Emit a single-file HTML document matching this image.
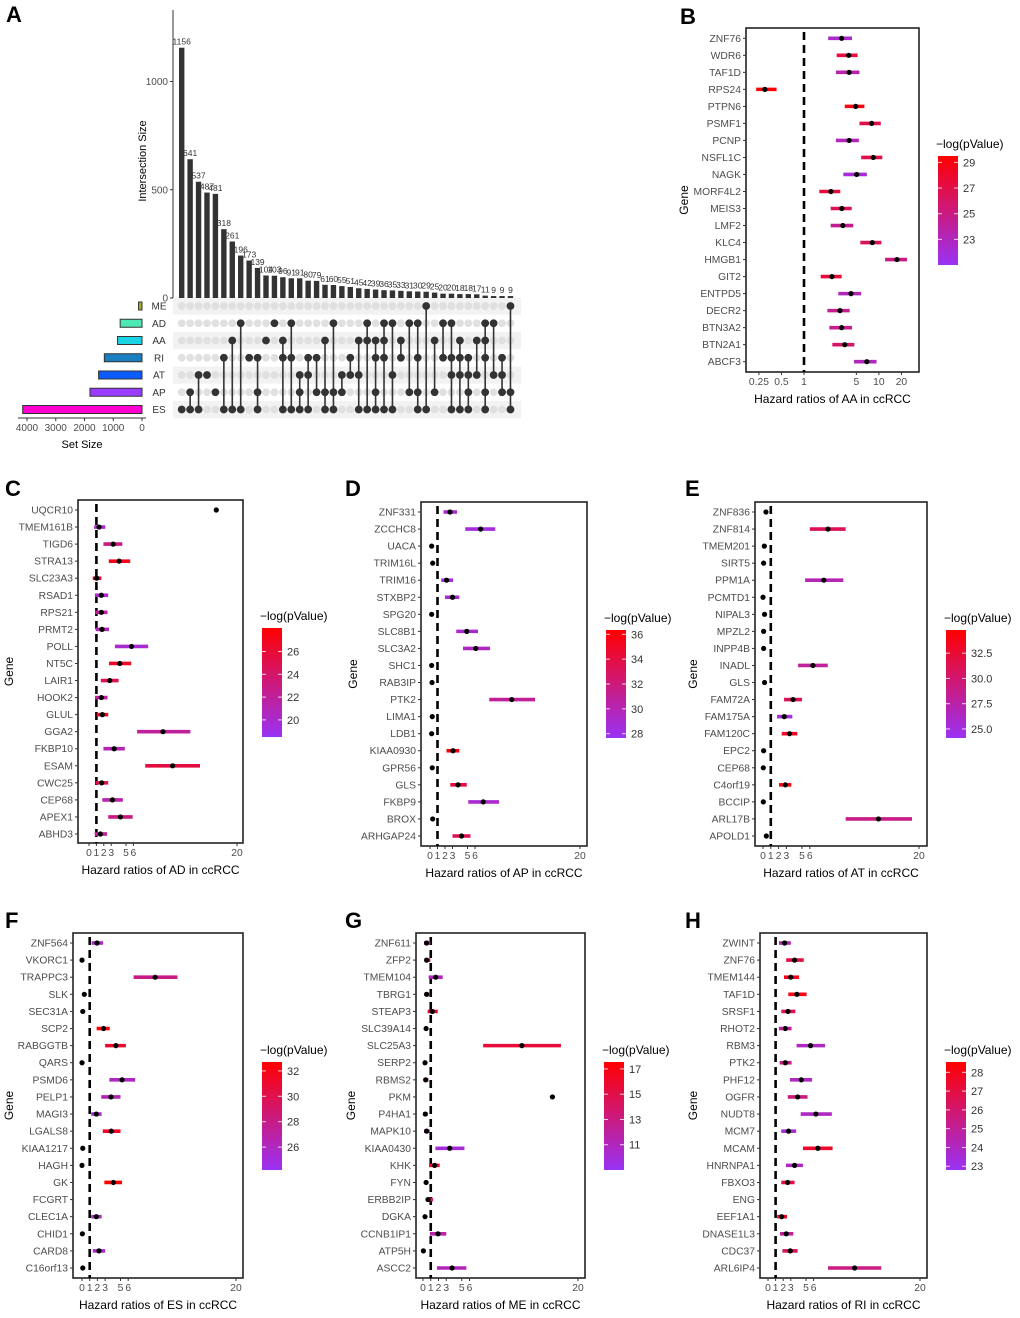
<!DOCTYPE html>
<html><head><meta charset="utf-8"><style>
body{margin:0;background:#fff;}
svg text{font-family:"Liberation Sans",Arial,sans-serif;}
</style></head><body>
<svg id="fig" xmlns="http://www.w3.org/2000/svg" width="1020" height="1313" viewBox="0 0 1020 1313"></svg>
<script>
// ---------- Panel A data ----------
const setNames = ["ME","AD","AA","RI","AT","AP","ES"];
const setSizes = [120,760,850,1310,1510,1810,4150];
const setColors = ["#a8b020","#4de8b4","#1ad4e6","#1a7fc0","#0a5cff","#9a3cff","#ff00d0"];
const interCounts = [1156,641,537,487,481,318,261,196,173,139,104,103,96,91,91,80,79,61,60,55,51,45,42,39,36,35,33,31,30,29,25,20,20,18,18,17,11,9,9,9];
const interSets = [
 ["ES"],["AP","ES"],["AT","ES"],["AT"],["AP"],["RI","ES"],["AA","ES"],["AD","ES"],["RI"],["RI","AP","ES"],
 ["AA"],["AD"],["AA","RI","ES"],["AD","RI","ES"],["AT","AP","ES"],["RI","AT","ES"],["RI","AP"],["AA","AP","ES"],["AD","AP","ES"],["AT","AP"],
 ["RI","AT"],["AA","AT","ES"],["AD","AA","ES"],["AA","RI","AP","ES"],["AD","AA","RI","ES"],["AD","AT","ES"],["AA","RI"],["AD","AP"],["AD","RI","AP","ES"],["ME","ES"],
 ["AA","AP"],["AD","RI"],["AD","RI","AT","ES"],["AA","RI","AT","ES"],["RI","AT","AP","ES"],["AA","AT"],["AD","AA","RI","AP","ES"],["AD","AT"],["RI","AT","AP"],["ME","AP","ES"]
];
const interTicks = [0,500,1000];
const setTicks = [0,1000,2000,3000,4000];

// ---------- Panel B (AA) ----------
const bGenes = ["ZNF76","WDR6","TAF1D","RPS24","PTPN6","PSMF1","PCNP","NSFL1C","NAGK","MORF4L2","MEIS3","LMF2","KLC4","HMGB1","GIT2","ENTPD5","DECR2","BTN3A2","BTN2A1","ABCF3"];
const bHR = [3.18,3.95,4.0,0.30,4.9,8.0,4.0,8.4,5.05,2.29,3.2,3.3,8.17,17.4,2.36,4.24,3.02,3.18,3.5,6.9];
const bLo = [2.1,2.73,2.67,0.23,3.5,5.5,2.67,5.8,3.35,1.6,2.27,2.27,5.65,12.1,1.67,2.87,2.05,2.18,2.39,4.66];
const bHi = [4.37,5.2,5.5,0.43,6.4,10.6,5.4,11.1,6.9,3.05,4.33,4.55,10.8,23.7,3.18,5.8,4.07,4.37,4.7,9.3];
const bP = [22.5,27.5,23.5,29.5,29,27,23,27,22,27.5,26.5,24.5,26.5,25,27.5,23,24.5,24.5,26,23];
const bTicks = [0.25,0.5,1,5,10,20];
const bLegTicks = [23,25,27,29];

// ---------- Panel C (AD) ----------
const cGenes = ["UQCR10","TMEM161B","TIGD6","STRA13","SLC23A3","RSAD1","RPS21","PRMT2","POLL","NT5C","LAIR1","HOOK2","GLUL","GGA2","FKBP10","ESAM","CWC25","CEP68","APEX1","ABHD3"];
const cHR = [17.2,1.36,3.26,4.07,1.04,1.67,1.67,1.76,5.75,4.16,2.8,1.67,1.8,10.0,3.4,11.3,1.72,3.17,4.25,1.54];
const cLo = [null,0.7,1.95,2.67,0.5,0.8,0.85,0.9,3.5,2.7,1.6,0.8,1.04,6.5,1.95,7.6,0.9,1.8,2.6,0.77];
const cHi = [null,2.2,4.5,5.57,1.67,2.6,2.5,2.7,8.0,5.7,4.0,2.5,2.6,13.7,4.84,15.0,2.6,4.57,5.9,2.44];
const cP = [null,20,23,27,26,20,22,21,20,26.5,25,22,27,22,21,25.5,25,21.5,23,22];
const cLegTicks = [20,22,24,26];

// ---------- Panel D (AP) ----------
const dGenes = ["ZNF331","ZCCHC8","UACA","TRIM16L","TRIM16","STXBP2","SPG20","SLC8B1","SLC3A2","SHC1","RAB3IP","PTK2","LIMA1","LDB1","KIAA0930","GPR56","GLS","FKBP9","BROX","ARHGAP24"];
const dHR = [2.67,6.76,0.22,0.36,2.2,3.0,0.22,4.9,6.1,0.22,0.27,10.9,0.3,0.22,3.07,0.3,3.73,7.1,0.36,4.2];
const dLo = [1.8,4.7,null,null,1.5,2.0,null,3.5,4.4,null,null,7.9,null,null,2.2,null,2.7,5.1,null,3.0];
const dHi = [3.6,8.7,null,null,3.07,3.9,null,6.4,8.0,null,null,14.0,null,null,3.9,null,4.9,9.2,null,5.4];
const dP = [29,28.5,null,null,28.5,29,null,29,29.5,null,null,31,null,null,36,null,34,29,null,33.5];
const dLegTicks = [28,30,32,34,36];

// ---------- Panel E (AT) ----------
const eGenes = ["ZNF836","ZNF814","TMEM201","SIRT5","PPM1A","PCMTD1","NIPAL3","MPZL2","INPP4B","INADL","GLS","FAM72A","FAM175A","FAM120C","EPC2","CEP68","C4orf19","BCCIP","ARL17B","APOLD1"];
const eHR = [0.38,8.33,0.17,0.08,7.8,0.0,0.2,0.08,0.08,6.4,0.2,3.85,2.73,3.4,0.08,0.04,2.86,0.04,14.8,0.43];
const eLo = [0.2,6.0,null,null,5.4,null,null,null,null,4.5,null,2.7,1.8,2.4,null,null,2.05,null,10.6,0.3];
const eHi = [0.6,10.6,null,null,10.3,null,null,null,null,8.3,null,5.0,3.76,4.4,null,null,3.63,null,19.1,0.6];
const eP = [25,31,null,null,27,null,null,null,null,28,null,31,25,33,null,null,34,null,29,28];
const eLegTicks = [25.0,27.5,30.0,32.5];

// ---------- Panel F (ES) ----------
const fGenes = ["ZNF564","VKORC1","TRAPPC3","SLK","SEC31A","SCP2","RABGGTB","QARS","PSMD6","PELP1","MAGI3","LGALS8","KIAA1217","HAGH","GK","FCGRT","CLEC1A","CHID1","CARD8","C16orf13"];
const fHR = [1.95,0.0,9.5,0.3,0.1,2.8,4.4,0.0,5.2,3.77,1.86,3.8,0.1,0.0,4.07,null,1.86,0.05,2.2,0.1];
const fLo = [1.25,null,6.7,null,null,1.9,3.0,null,3.55,2.5,1.2,2.7,null,null,2.9,null,1.2,null,1.4,null];
const fHi = [2.73,null,12.4,null,null,3.6,5.7,null,6.9,5.0,2.55,5.0,null,null,5.2,null,2.55,null,3.0,null];
const fP = [26,null,28,null,null,32.5,31,null,26,26.5,25.5,31.5,null,null,33,null,26,null,25.5,null];
const fLegTicks = [26,28,30,32];

// ---------- Panel G (ME) ----------
const gGenes = ["ZNF611","ZFP2","TMEM104","TBRG1","STEAP3","SLC39A14","SLC25A3","SERP2","RBMS2","PKM","P4HA1","MAPK10","KIAA0430","KHK","FYN","ERBB2IP","DGKA","CCNB1IP1","ATP5H","ASCC2"];
const gHR = [0.47,0.47,1.64,0.47,1.2,0.4,12.76,0.26,0.35,16.7,0.3,0.47,3.45,1.5,0.4,0.65,0.26,1.94,0.05,3.75];
const gLo = [0.13,0.17,0.73,0.17,0.6,0.2,7.76,null,0.05,null,0.0,0.13,1.6,0.78,0.2,0.35,null,0.9,null,1.8];
const gHi = [0.95,0.95,2.54,0.9,1.9,0.6,17.8,null,0.7,null,0.6,0.86,5.35,2.15,0.6,1.3,null,3.0,null,5.6];
const gP = [12,15,11,12,16,14,15.5,null,11,null,16,11,10,16,16,14,null,11.5,null,11];
const gLegTicks = [11,13,15,17];

// ---------- Panel H (RI) ----------
const hGenes = ["ZWINT","ZNF76","TMEM144","TAF1D","SRSF1","RHOT2","RBM3","PTK2","PHF12","OGFR","NUDT8","MCM7","MCAM","HNRNPA1","FBXO3","ENG","EEF1A1","DNASE1L3","CDC37","ARL6IP4"];
const hHR = [2.19,3.5,3.0,3.8,2.63,2.28,5.6,2.28,4.38,3.9,6.3,2.7,6.56,3.5,2.58,null,1.8,2.4,2.93,11.4];
const hLo = [1.44,2.4,2.1,2.67,1.75,1.44,3.76,1.53,2.9,2.6,4.3,1.75,4.6,2.36,1.75,null,1.2,1.58,1.9,7.9];
const hHi = [3.0,4.7,4.07,5.08,3.6,3.1,7.5,3.1,5.8,5.2,8.4,3.7,8.5,4.6,3.5,null,2.5,3.33,3.9,14.9];
const hP = [24.5,27,28,28,26.5,25,24,25.5,24,25.5,24,23.5,27.5,24,27,null,27.5,25,26.5,25.5];
const hLegTicks = [23,24,25,26,27,28];
const linTicks = [0,1,2,3,5,6,20];

const NS = "http://www.w3.org/2000/svg";
const svg = document.getElementById("fig");
function el(tag, attrs, parent, text){
  const e = document.createElementNS(NS, tag);
  for (const k in attrs) e.setAttribute(k, attrs[k]);
  if (text !== undefined) e.textContent = text;
  (parent || svg).appendChild(e);
  return e;
}
function grp(name){
  const g = document.createElementNS(NS,"g");
  
  
  svg.appendChild(g);
  return g;
}
function lerpColor(t){
  t = Math.max(0, Math.min(1, t));
  const a=[154,50,245], b=[255,0,0];
  const c=a.map((v,i)=>Math.round(v+(b[i]-v)*t));
  return "rgb("+c.join(",")+")";
}
let gradId = 0;

function forest(cfg){
  const g = grp(cfg.name);
  const letter = el("text",{x:cfg.letterX,y:cfg.letterY,"font-size":22,"font-weight":"bold",fill:"#000"},g,cfg.letter);
  
  
  const n = cfg.genes.length;
  const rowY = i => cfg.rowFirst + i*(cfg.rowLast-cfg.rowFirst)/(n-1);
  const xs = cfg.xs;
  const box = el("rect",{x:cfg.x0,y:cfg.y0,width:cfg.x1-cfg.x0,height:cfg.y1-cfg.y0,fill:"#fff",stroke:"#222","stroke-width":1.6},g);
  
  
  const ref = el("line",{x1:xs(1),x2:xs(1),y1:cfg.y0+4,y2:cfg.y1,stroke:"#000","stroke-width":2.6,"stroke-dasharray":"8,5"},g);
  
  
  for (let i=0;i<n;i++){
    const y = rowY(i);
    const lab = el("text",{x:cfg.x0-5,y:y+3.5,"font-size":10.3,fill:"#4d4d4d","text-anchor":"end"},g,cfg.genes[i]);
    
    
    el("line",{x1:cfg.x0-3,x2:cfg.x0,y1:y,y2:y,stroke:"#333","stroke-width":1},g);
    if (cfg.lo[i]!==null && cfg.hi[i]!==null){
      const bar = el("line",{x1:xs(cfg.lo[i]),x2:xs(cfg.hi[i]),y1:y,y2:y,stroke:lerpColor((cfg.p[i]-cfg.legBot)/(cfg.legTop-cfg.legBot)),"stroke-width":3.6},g);
      
      
    }
    if (cfg.hr[i]!==null){
      const pt = el("circle",{cx:xs(cfg.hr[i]),cy:y,r:2.6,fill:"#000"},g);
      
      
    }
  }
  cfg.ticks.forEach(t=>{
    el("line",{x1:xs(t),x2:xs(t),y1:cfg.y1,y2:cfg.y1+3,stroke:"#333","stroke-width":1},g);
    const tl = el("text",{x:xs(t),y:cfg.y1+13,"font-size":10.3,fill:"#4d4d4d","text-anchor":"middle"},g,String(t));
    
    
  });
  const xt = el("text",{x:(cfg.x0+cfg.x1)/2,y:cfg.y1+31,"font-size":12,fill:"#000","text-anchor":"middle"},g,cfg.title);
  
  
  const cy=(cfg.y0+cfg.y1)/2;
  const yt = el("text",{x:cfg.geneX,y:cy,"font-size":12,fill:"#000","text-anchor":"middle",transform:"rotate(-90 "+cfg.geneX+" "+cy+")"},g,"Gene");
  
  
  const id="grad"+(gradId++);
  const defs = el("defs",{},g);
  const lg = el("linearGradient",{id:id,x1:0,y1:1,x2:0,y2:0},defs);
  for (let k=0;k<=10;k++) el("stop",{offset:(k*10)+"%","stop-color":lerpColor(k/10)},lg);
  const L=cfg.leg;
  const lt = el("text",{x:L.x-2,y:L.y0-8,"font-size":12,fill:"#000"},g,"\u2212log(pValue)");
  
  
  const cb = el("rect",{x:L.x,y:L.y0,width:20,height:L.y1-L.y0,fill:"url(#"+id+")"},g);
  
  
  const ly = v => L.y1 - (v-cfg.legBot)/(cfg.legTop-cfg.legBot)*(L.y1-L.y0);
  cfg.legTicks.forEach(t=>{
    el("line",{x1:L.x,x2:L.x+4,y1:ly(t),y2:ly(t),stroke:"#fff","stroke-width":1,opacity:0.8},g);
    el("line",{x1:L.x+16,x2:L.x+20,y1:ly(t),y2:ly(t),stroke:"#fff","stroke-width":1,opacity:0.8},g);
    const tx = el("text",{x:L.x+25,y:ly(t)+4,"font-size":11,fill:"#333"},g,cfg.legFmt?t.toFixed(1):String(t));
    
    
  });
}
function linScale(p0,p20){ return v => p0 + v*(p20-p0)/20; }

forest({name:"panel-b",letter:"B",letterX:680,letterY:24,genes:bGenes,hr:bHR,lo:bLo,hi:bHi,p:bP,
  x0:746,x1:919,y0:28,y1:372,rowFirst:38.3,rowLast:361.7,xs:v=>804+74.9*Math.log10(v),ticks:bTicks,
  title:"Hazard ratios of AA in ccRCC",geneX:688,leg:{x:938,y0:156,y1:265},legTop:29.5,legBot:21.0,legTicks:bLegTicks});
forest({name:"panel-c",letter:"C",letterX:5,letterY:496,genes:cGenes,hr:cHR,lo:cLo,hi:cHi,p:cP,
  x0:78,x1:243,y0:500,y1:843,rowFirst:510,rowLast:834,xs:linScale(89,237),ticks:linTicks,
  title:"Hazard ratios of AD in ccRCC",geneX:13,leg:{x:262,y0:628,y1:737},legTop:28.06,legBot:18.5,legTicks:cLegTicks});
forest({name:"panel-d",letter:"D",letterX:345,letterY:496,genes:dGenes,hr:dHR,lo:dLo,hi:dHi,p:dP,
  x0:421,x1:587,y0:502,y1:846,rowFirst:512,rowLast:836,xs:linScale(430,580),ticks:linTicks,
  title:"Hazard ratios of AP in ccRCC",geneX:357,leg:{x:606,y0:630,y1:738},legTop:36.35,legBot:27.65,legTicks:dLegTicks});
forest({name:"panel-e",letter:"E",letterX:685,letterY:496,genes:eGenes,hr:eHR,lo:eLo,hi:eHi,p:eP,
  x0:755,x1:927,y0:502,y1:846,rowFirst:512,rowLast:836,xs:linScale(763,919),ticks:linTicks,
  title:"Hazard ratios of AT in ccRCC",geneX:697,leg:{x:946,y0:630,y1:738},legTop:34.8,legBot:24.1,legTicks:eLegTicks,legFmt:true});
forest({name:"panel-f",letter:"F",letterX:5,letterY:928,genes:fGenes,hr:fHR,lo:fLo,hi:fHi,p:fP,
  x0:73,x1:243,y0:933,y1:1278,rowFirst:943,rowLast:1268,xs:linScale(82,236),ticks:linTicks,
  title:"Hazard ratios of ES in ccRCC",geneX:13,leg:{x:262,y0:1062,y1:1170},legTop:32.7,legBot:24.2,legTicks:fLegTicks});
forest({name:"panel-g",letter:"G",letterX:345,letterY:928,genes:gGenes,hr:gHR,lo:gLo,hi:gHi,p:gP,
  x0:416,x1:585,y0:933,y1:1278,rowFirst:943,rowLast:1268,xs:linScale(423,578),ticks:linTicks,
  title:"Hazard ratios of ME in ccRCC",geneX:355,leg:{x:604,y0:1062,y1:1170},legTop:17.55,legBot:9.0,legTicks:gLegTicks});
forest({name:"panel-h",letter:"H",letterX:685,letterY:928,genes:hGenes,hr:hHR,lo:hLo,hi:hHi,p:hP,
  x0:760,x1:927,y0:933,y1:1278,rowFirst:943,rowLast:1268,xs:linScale(768,920),ticks:linTicks,
  title:"Hazard ratios of RI in ccRCC",geneX:697,leg:{x:946,y0:1062,y1:1170},legTop:28.55,legBot:22.8,legTicks:hLegTicks});

// ---------- Panel A: UpSet ----------
(function(){
  const g = grp("panel-a-upset");
  const la = el("text",{x:6,y:22,"font-size":22,"font-weight":"bold",fill:"#000"},g,"A");
  
  
  const colX = i => 181.7 + i*8.43;
  const yBar = v => 298 - v*0.2165;
  const rowYs = i => 306 + i*17.25;
  for (let r=0;r<setNames.length;r+=2){
    el("rect",{x:173,y:rowYs(r)-8.6,width:348,height:17.25,fill:"#f2f2f2"},g);
  }
  el("line",{x1:173,x2:173,y1:10,y2:298,stroke:"#333","stroke-width":1},g);
  interTicks.forEach(t=>{
    el("line",{x1:170,x2:173,y1:yBar(t),y2:yBar(t),stroke:"#333"},g);
    const tl = el("text",{x:168,y:yBar(t)+3.5,"font-size":10,fill:"#4d4d4d","text-anchor":"end"},g,String(t));
    
    
  });
  const yt = el("text",{x:146,y:161,"font-size":11,fill:"#000","text-anchor":"middle",transform:"rotate(-90 146 161)"},g,"Intersection Size");
  
  
  interCounts.forEach((v,i)=>{
    const b = el("rect",{x:colX(i)-2.7,y:yBar(v),width:5.4,height:Math.max(0.8,298-yBar(v)),fill:"#333"},g);
    
    
    const t = el("text",{x:colX(i),y:yBar(v)-3,"font-size":8.5,fill:"#333","text-anchor":"middle"},g,String(v));
    
    
  });
  interSets.forEach((sets,i)=>{
    const idx = sets.map(s=>setNames.indexOf(s)).sort((a,b)=>a-b);
    for (let r=0;r<setNames.length;r++){
      el("circle",{cx:colX(i),cy:rowYs(r),r:3.9,fill:"#e0e0e0"},g);
    }
    if (idx.length>1){
      el("line",{x1:colX(i),x2:colX(i),y1:rowYs(idx[0]),y2:rowYs(idx[idx.length-1]),stroke:"#333","stroke-width":1.6},g);
    }
    idx.forEach(r=>{
      const d = el("circle",{cx:colX(i),cy:rowYs(r),r:3.9,fill:"#333"},g);
      
      
    });
  });
  const xSet = v => 142 - v*(115/4000);
  setNames.forEach((s,r)=>{
    const y = rowYs(r);
    const b = el("rect",{x:xSet(setSizes[r]),y:y-4,width:142-xSet(setSizes[r]),height:8,fill:setColors[r],stroke:"#333","stroke-width":1},g);
    
    
    const t = el("text",{x:159,y:y+3.5,"font-size":10,fill:"#333","text-anchor":"middle"},g,s);
    
    
  });
  el("line",{x1:18,x2:146,y1:418,y2:418,stroke:"#333","stroke-width":1},g);
  setTicks.forEach(t=>{
    el("line",{x1:xSet(t),x2:xSet(t),y1:418,y2:421,stroke:"#333"},g);
    const tl = el("text",{x:xSet(t),y:431,"font-size":10,fill:"#4d4d4d","text-anchor":"middle"},g,String(t));
    
    
  });
  const xt = el("text",{x:82,y:448,"font-size":11,fill:"#000","text-anchor":"middle"},g,"Set Size");
  
  
})();
</script>
</body></html>
